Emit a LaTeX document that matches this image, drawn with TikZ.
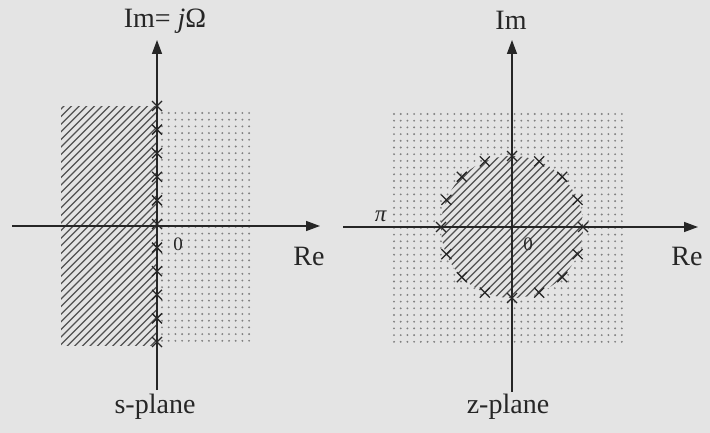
\documentclass[tikz,border=0pt]{standalone}
\usepackage{fontspec}
\setmainfont{Liberation Serif}
\usetikzlibrary{arrows.meta,calc}
\definecolor{bg}{HTML}{E4E4E4}
\definecolor{ink}{HTML}{262626}
\definecolor{dotc}{HTML}{808080}
\tikzset{
  axis/.style={draw=ink, line width=1.4pt, -{Triangle[length=14pt,width=10pt]}},
  hatchline/.style={draw=ink!80, line width=1.25pt},
  pole/.style={draw=ink, line width=1.3pt},
  lbl/.style={font=\fontsize{28}{31}\selectfont, text=ink, inner sep=0pt, anchor=base},
  small/.style={font=\fontsize{19}{22}\selectfont, text=ink, inner sep=0pt, anchor=base},
}
\begin{document}
\begin{tikzpicture}[x=1pt,y=-1pt]
\fill[bg] (0,0) rectangle (710,433);
\useasboundingbox (0,0) rectangle (710,433);

% ---------------- s-plane ----------------
% dotted right half
\foreach \i in {0,...,13}{\foreach \j in {0,...,34}{
  \fill[dotc] (162+\i*6.7, 113+\j*6.7) circle (1.05pt);}}
% hatched left half
\begin{scope}
  \clip (61,107) rectangle (157,345);
  \foreach \k in {0,...,46}{\draw[hatchline] (-180+\k*7.6,350) -- ++(250,-250);}
\end{scope}
% axes
\coordinate (sB) at (157,390);
\coordinate (sT) at (157,40);
\coordinate (sL) at (12,226);
\coordinate (sR) at (320,226);
\draw[axis] (sB) -- (sT);
\draw[axis] (sL) -- (sR);
% poles on the imaginary axis
\foreach \k in {0,...,10}{
  \draw[pole] ($(157,106)+(0,\k*23.6)+(-5,-5)$) -- ++(10,10)
              ($(157,106)+(0,\k*23.6)+(-5,5)$) -- ++(10,-10);}
% labels
\node[lbl] (sIm) at (165,28) {Im= \textit{j}Ω};
\node[lbl] (sRe) at (309,265) {Re};
\node[small] (s0) at (178,250) {0};
\node[lbl] (sName) at (155,413) {s-plane};

% ---------------- z-plane ----------------
\foreach \i in {0,...,34}{\foreach \j in {0,...,34}{
  \fill[dotc] (394+\i*6.7, 114+\j*6.7) circle (1.05pt);}}
\fill[bg] (512,227) circle (71pt);
\begin{scope}
  \clip (512,227) circle (71pt);
  \foreach \k in {0,...,40}{\draw[hatchline] (300+\k*7.6,310) -- ++(180,-180);}
\end{scope}
\coordinate (zB) at (512,392);
\coordinate (zT) at (512,40);
\coordinate (zL) at (343,227);
\coordinate (zR) at (698,227);
\draw[axis] (zB) -- (zT);
\draw[axis] (zL) -- (zR);
\foreach \a in {0,22.5,...,337.5}{
  \draw[pole] ($(512,227)+({71*cos(\a)},{-71*sin(\a)})+(-5,-5)$) -- ++(10,10)
              ($(512,227)+({71*cos(\a)},{-71*sin(\a)})+(-5,5)$) -- ++(10,-10);}
\node[lbl] (zIm) at (511,30) {Im};
\node[lbl] (zRe) at (687,265) {Re};
\node[small] (z0) at (528,250) {0};
\node[small,font=\fontsize{23}{26}\selectfont] (zPi) at (381,222) {\textit{π}};
\node[lbl] (zName) at (508,413) {z-plane};
\end{tikzpicture}
\end{document}
